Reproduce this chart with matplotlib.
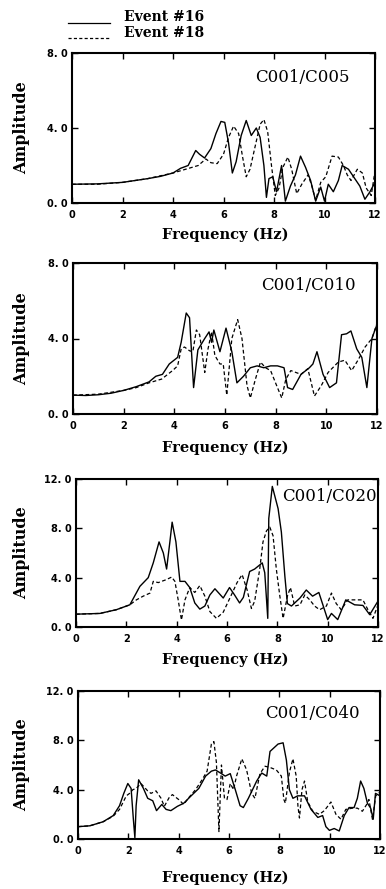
import matplotlib
matplotlib.use('Agg')
import matplotlib.pyplot as plt

# ---- data (frequency in Hz, spectral ratio amplitude) ----
# panel 1: C001/C005
p1_f16 = [0, 1, 2, 3, 3.5, 4.0, 4.3, 4.6, 4.75, 4.9, 5.05, 5.25, 5.5, 5.7, 5.9, 6.05, 6.2, 6.35,
          6.5, 6.7, 6.9, 7.1, 7.3, 7.45, 7.6, 7.7, 7.8, 7.95, 8.1, 8.3, 8.45, 8.65, 8.85, 9.05,
          9.25, 9.45, 9.65, 9.85, 10.0, 10.15, 10.35, 10.55, 10.7, 10.95, 11.2, 11.4, 11.6, 11.8, 12.0]
p1_a16 = [1.0, 1.02, 1.1, 1.3, 1.42, 1.6, 1.85, 2.0, 2.4, 2.8, 2.6, 2.4, 2.9, 3.7, 4.35, 4.3, 3.2, 1.6,
          2.2, 3.6, 4.4, 3.6, 4.0, 3.5, 2.0, 0.3, 1.3, 1.4, 0.6, 2.0, 0.1, 0.9, 1.5, 2.5,
          1.9, 1.2, 0.1, 0.85, 0.1, 1.0, 0.6, 1.2, 2.0, 1.8, 1.3, 0.9, 0.2, 0.6, 1.1]
p1_f18 = [0, 1, 2, 3, 4, 4.5, 5.0, 5.3, 5.5, 5.75, 6.0, 6.2, 6.4, 6.6, 6.75, 6.9, 7.05, 7.25, 7.45,
          7.6, 7.75, 7.9, 8.05, 8.2, 8.35, 8.55, 8.7, 8.9, 9.1, 9.35, 9.5, 9.65, 9.85, 10.05, 10.3,
          10.55, 10.75, 10.9, 11.05, 11.3, 11.5, 11.65, 11.85, 12.0]
p1_a18 = [1.0, 1.0, 1.1, 1.3, 1.6, 1.8, 2.0, 2.35, 2.15, 2.1, 2.6, 3.5, 4.1, 3.7, 2.5, 1.4, 1.8, 3.0, 4.2,
          4.45, 3.8, 2.0, 0.4, 0.8, 1.9, 2.45, 1.8, 0.5, 1.0, 1.5, 0.9, 0.15, 1.1, 1.4, 2.5,
          2.45, 2.0, 1.5, 1.2, 1.8, 1.6, 0.8, 0.4, 1.7]

# panel 2: C001/C010
p2_f16 = [0, 0.5, 1, 1.5, 2, 2.5, 3.0, 3.27, 3.53, 3.8, 4.13, 4.27, 4.47, 4.6, 4.76, 4.93, 5.2, 5.37,
          5.47, 5.56, 5.8, 6.04, 6.27, 6.47, 6.73, 7.0, 7.27, 7.53, 7.8, 8.07, 8.33, 8.47, 8.67, 9.0,
          9.33, 9.47, 9.63, 9.87, 10.13, 10.4, 10.6, 10.8, 10.97, 11.2, 11.4, 11.6, 11.8, 11.96, 12.0]
p2_a16 = [1.0, 0.98, 1.02, 1.1, 1.25, 1.45, 1.7, 2.0, 2.1, 2.65, 3.0, 3.8, 5.35, 5.1, 1.4, 3.4, 4.0, 4.35,
          3.8, 4.45, 3.3, 4.55, 3.3, 1.65, 2.0, 2.45, 2.55, 2.45, 2.55, 2.55, 2.45, 1.4, 1.3, 2.1,
          2.45, 2.65, 3.3, 2.1, 1.4, 1.65, 4.2, 4.25, 4.4, 3.45, 3.0, 1.4, 4.0, 4.6, 4.7]
p2_f18 = [0, 1, 2, 2.5, 3, 3.5, 3.93, 4.13, 4.27, 4.4, 4.6, 4.73, 4.87, 5.0, 5.2, 5.33, 5.47, 5.6,
          5.8, 5.93, 6.07, 6.27, 6.5, 6.67, 6.87, 7.0, 7.2, 7.4, 7.6, 7.8, 8.07, 8.24, 8.4, 8.6,
          9.0, 9.27, 9.53, 9.8, 10.07, 10.47, 10.73, 11.0, 11.27, 11.53, 11.8, 12.0]
p2_a18 = [1.0, 1.05, 1.25, 1.4, 1.65, 1.85, 2.3, 2.55, 3.45, 3.55, 3.35, 3.3, 4.45, 4.2, 2.2, 3.45, 4.35, 3.1,
          2.65, 2.65, 1.0, 4.0, 5.0, 4.0, 1.5, 0.85, 1.84, 2.75, 2.45, 2.3, 1.4, 0.85, 1.84, 2.3,
          2.1, 2.4, 0.95, 1.5, 2.2, 2.75, 2.85, 2.3, 2.9, 3.55, 4.0, 4.8]

# panel 3: C001/C020
p3_f16 = [0, 0.95, 1.6, 2.14, 2.54, 2.87, 3.07, 3.3, 3.47, 3.6, 3.73, 3.82, 3.97, 4.13, 4.33, 4.52,
          4.72, 4.92, 5.12, 5.32, 5.52, 5.85, 6.1, 6.3, 6.5, 6.65, 6.9, 7.1, 7.4, 7.5, 7.62, 7.66,
          7.8, 8.03, 8.16, 8.3, 8.4, 8.56, 8.9, 9.15, 9.4, 9.65, 10.0, 10.15, 10.4, 10.72, 11.07,
          11.4, 11.67, 12.0]
p3_a16 = [1.04, 1.1, 1.4, 1.8, 3.3, 4.0, 5.2, 6.9, 6.0, 4.7, 6.9, 8.5, 6.9, 3.7, 3.7, 3.2,
          1.95, 1.45, 1.7, 2.6, 3.1, 2.35, 3.2, 2.6, 1.95, 2.4, 4.5, 4.7, 5.2, 4.4, 0.7, 8.8,
          11.4, 9.6, 7.7, 4.1, 1.9, 1.7, 2.35, 3.0, 2.5, 2.8, 0.6, 1.1, 0.6, 2.2, 1.8,
          1.75, 1.0, 2.1]
p3_f18 = [0, 0.95, 1.6, 2.14, 2.4, 2.67, 2.94, 3.07, 3.27, 3.6, 3.8, 3.93, 4.06, 4.19, 4.33, 4.52,
          4.72, 4.92, 5.12, 5.32, 5.58, 5.85, 6.15, 6.4, 6.6, 6.8, 6.97, 7.1, 7.3, 7.43, 7.57, 7.7,
          7.83, 7.96, 8.1, 8.23, 8.4, 8.52, 8.69, 8.9, 9.09, 9.29, 9.48, 9.68, 9.95, 10.15, 10.34,
          10.54, 10.8, 11.4, 11.6, 11.8, 12.0]
p3_a18 = [1.04, 1.1, 1.4, 1.8, 2.2, 2.5, 2.75, 3.7, 3.6, 3.85, 4.05, 3.7, 2.2, 0.57, 2.2, 3.2,
          2.8, 3.36, 2.5, 1.25, 0.7, 1.2, 2.5, 3.6, 4.25, 3.0, 1.5, 2.1, 4.7, 6.9, 7.8, 8.1,
          7.4, 4.7, 2.5, 0.7, 2.5, 3.2, 1.7, 1.8, 2.6, 2.2, 1.7, 1.4, 1.7, 2.75, 1.9,
          1.4, 2.2, 2.2, 1.4, 0.7, 1.8]

# panel 4: C001/C040
p4_f16 = [0, 0.47, 1.0, 1.4, 1.65, 1.82, 1.98, 2.11, 2.2, 2.26, 2.31, 2.41, 2.6, 2.77, 2.97, 3.12,
          3.33, 3.5, 3.69, 3.95, 4.2, 4.47, 4.8, 5.07, 5.3, 5.46, 5.66, 5.85, 6.05, 6.25, 6.44, 6.57,
          6.77, 7.1, 7.3, 7.5, 7.63, 7.95, 8.15, 8.28, 8.4, 8.54, 8.73, 9.0, 9.26, 9.53, 9.72, 9.85,
          9.99, 10.18, 10.38, 10.58, 10.77, 10.97, 11.1, 11.23, 11.36, 11.5, 11.63, 11.73, 11.82, 12.0]
p4_a16 = [1.0, 1.07, 1.4, 1.9, 2.7, 3.7, 4.5, 4.1, 1.6, 0.1, 2.7, 4.8, 4.1, 3.3, 3.1, 2.3,
          2.8, 2.4, 2.3, 2.65, 2.9, 3.45, 4.1, 5.1, 5.5, 5.6, 5.35, 5.1, 5.3, 4.0, 2.7, 2.55,
          3.3, 4.7, 5.35, 5.1, 7.1, 7.7, 7.8, 6.4, 4.0, 3.3, 3.5, 3.5, 2.4, 1.75, 1.9, 1.0,
          0.7, 0.85, 0.65, 1.9, 2.55, 2.55, 3.3, 4.7, 4.1, 2.9, 2.5, 1.6, 3.7, 3.5]
p4_f18 = [0, 0.47, 1.0, 1.4, 1.65, 1.92, 2.05, 2.18, 2.31, 2.5, 2.77, 2.9, 3.1, 3.3, 3.43, 3.62,
          3.75, 4.0, 4.2, 4.4, 4.67, 4.93, 5.13, 5.3, 5.4, 5.5, 5.6, 5.7, 5.82, 5.92, 6.05, 6.18,
          6.3, 6.51, 6.7, 6.9, 7.03, 7.23, 7.43, 7.63, 7.88, 8.08, 8.18, 8.24, 8.4, 8.54, 8.67,
          8.74, 8.8, 8.9, 9.0, 9.13, 9.33, 9.59, 9.79, 10.05, 10.25, 10.45, 10.64, 10.9, 11.1,
          11.3, 11.47, 11.56, 11.7, 11.83, 12.0]
p4_a18 = [1.0, 1.07, 1.4, 1.85, 2.4, 3.5, 3.7, 4.0, 4.1, 4.5, 3.9, 3.7, 3.9, 3.3, 2.65, 3.35,
          3.6, 3.2, 2.8, 3.35, 4.0, 4.8, 5.5, 7.7, 7.9, 6.2, 0.6, 6.0, 3.3, 3.2, 4.5, 4.0,
          5.1, 6.5, 5.6, 3.7, 3.3, 5.3, 5.9, 5.8, 5.6, 5.1, 3.2, 2.9, 5.4, 6.5, 5.1,
          2.65, 1.7, 4.0, 4.7, 3.0, 2.25, 2.0, 2.3, 3.0, 2.0, 1.6, 2.4, 2.5, 2.5,
          2.25, 2.8, 3.2, 1.6, 3.5, 3.8]

panel_names = ['C001/C005', 'C001/C010', 'C001/C020', 'C001/C040']
panel_ymax = [8, 8, 12, 12]
legend_names = ['Event #16', 'Event #18']

series = [(p1_f16, p1_a16, p1_f18, p1_a18),
          (p2_f16, p2_a16, p2_f18, p2_a18),
          (p3_f16, p3_a16, p3_f18, p3_a18),
          (p4_f16, p4_a16, p4_f18, p4_a18)]

W, H = 386, 889
fig = plt.figure(figsize=(W / 100, H / 100), dpi=100)

# axes boxes in pixels: left, right, top, bottom
boxes = [(72, 375, 53, 203), (73, 377, 263, 414), (76, 378, 479, 627), (78, 380, 691, 839)]
xlabel_y = [235, 448, 660, 878]
# label anchor (right edge x in Hz, y centre in data units)
label_pos = [(11.0, 6.7), (11.15, 6.8), (11.95, 10.6), (11.2, 10.2)]

serif = 'DejaVu Serif'
tickfont = dict(family='DejaVu Sans', size=7, weight='bold')

for i, (f16, a16, f18, a18) in enumerate(series):
    l, r, t, b = boxes[i]
    ax = fig.add_axes([l / W, 1 - b / H, (r - l) / W, (b - t) / H])
    ax.plot(f16, a16, color='black', lw=1.0, ls='-')
    ax.plot(f18, a18, color='black', lw=0.9, ls=(0, (3, 2)))
    ax.set_xlim(0, 12)
    ax.set_ylim(0, panel_ymax[i])
    ax.set_xticks(range(0, 13, 2))
    ax.set_yticks(range(0, panel_ymax[i] + 1, 4))
    ax.set_xticklabels([str(v) for v in range(0, 13, 2)], fontdict=tickfont)
    ax.set_yticklabels(['%d. 0' % v for v in range(0, panel_ymax[i] + 1, 4)], fontdict=tickfont)
    ax.tick_params(direction='in', top=True, right=True, length=4, width=1.0)
    ax.tick_params(axis='x', pad=5)
    ax.tick_params(axis='y', pad=3)
    for s in ax.spines.values():
        s.set_linewidth(1.5)
    ax.set_ylabel('Amplitude', family=serif, weight='bold', fontsize=11.5)
    ax.yaxis.set_label_coords((30 - l) / (r - l), 0.5)
    ax.text(label_pos[i][0], label_pos[i][1], panel_names[i], family=serif, fontsize=12,
            ha='right', va='center')
    fig.text(225 / W, 1 - xlabel_y[i] / H, 'Frequency (Hz)', family=serif, weight='bold',
             fontsize=10.5, ha='center', va='center')

# legend drawn at top-left of figure
fig.add_artist(plt.Line2D([68 / W, 110 / W], [1 - 22.5 / H, 1 - 22.5 / H], color='black', lw=0.9))
fig.add_artist(plt.Line2D([68 / W, 110 / W], [1 - 38 / H, 1 - 38 / H], color='black', lw=0.9,
                          ls=(0, (2.5, 1.8))))
fig.text(124 / W, 1 - 17 / H, legend_names[0], family=serif, weight='bold', fontsize=10, va='center')
fig.text(124 / W, 1 - 33 / H, legend_names[1], family=serif, weight='bold', fontsize=10, va='center')

fig.savefig('out.png', dpi=100, facecolor='white')
